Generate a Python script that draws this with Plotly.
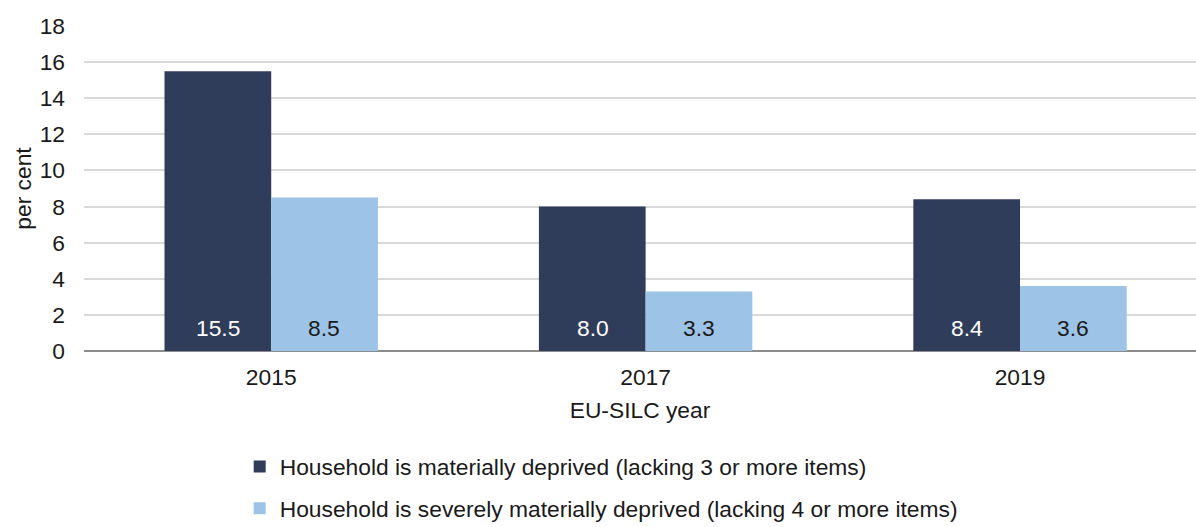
import plotly.graph_objects as go

years = ["2015", "2017", "2019"]
deprived = [15.5, 8.0, 8.4]
severe = [8.5, 3.3, 3.6]
series_names = [
    "Household is materially deprived (lacking 3 or more items)",
    "Household is severely materially deprived (lacking 4 or more items)",
]
y_ticks = [0, 2, 4, 6, 8, 10, 12, 14, 16, 18]

FONT = "Liberation Sans, Arial, sans-serif"
DARK = "#303D5A"
LIGHT = "#9DC3E6"
TXT = "#1a1a1a"
FS = 22.8

fig = go.Figure()
fig.add_trace(go.Bar(
    x=years, y=deprived, name=series_names[0], marker_color=DARK,
    marker_line_width=0, legendgroup="a",
))
fig.add_trace(go.Bar(
    x=years, y=severe, name=series_names[1], marker_color=LIGHT,
    marker_line_width=0, legendgroup="b",
))

# value labels near the base of each bar (x given as category index)
for i, v in enumerate(deprived):
    fig.add_annotation(x=i, y=0, xref="x", yref="y", text=f"{v:.1f}",
                       showarrow=False, xshift=-53, yshift=23,
                       font=dict(color="white", size=FS, family=FONT))
for i, v in enumerate(severe):
    fig.add_annotation(x=i, y=0, xref="x", yref="y", text=f"{v:.1f}",
                       showarrow=False, xshift=53, yshift=23,
                       font=dict(color=TXT, size=FS, family=FONT))

fig.update_layout(
    width=1196, height=527,
    margin=dict(l=84, r=0, t=26, b=176, autoexpand=False),
    paper_bgcolor="white", plot_bgcolor="white",
    font=dict(family=FONT, size=FS, color=TXT),
    barmode="group", bargap=0.43, bargroupgap=0,
    showlegend=True,
    legend=dict(x=0.14, y=-0.29, xanchor="left", yanchor="top",
                orientation="v", tracegroupgap=9,
                font=dict(size=FS, family=FONT, color=TXT),
                itemwidth=30, traceorder="grouped"),
)
fig.update_xaxes(
    type="category", range=[-0.5, 2.47], automargin=False,
    showgrid=False, showline=False, ticks="", ticklabelstandoff=10,
    tickfont=dict(size=FS),
    title=dict(text="EU-SILC year", font=dict(size=FS), standoff=13),
)
fig.update_yaxes(
    range=[0, 18], tickvals=y_ticks, showgrid=True, gridcolor="#D9D9D9",
    gridwidth=1.5, zeroline=True, zerolinecolor="#8C8C8C", zerolinewidth=2,
    showline=False, ticks="", ticklabelstandoff=18, automargin=False,
    tickfont=dict(size=FS),
    title=dict(text="per cent", font=dict(size=FS), standoff=1),
)

fig.write_html("out.html")
